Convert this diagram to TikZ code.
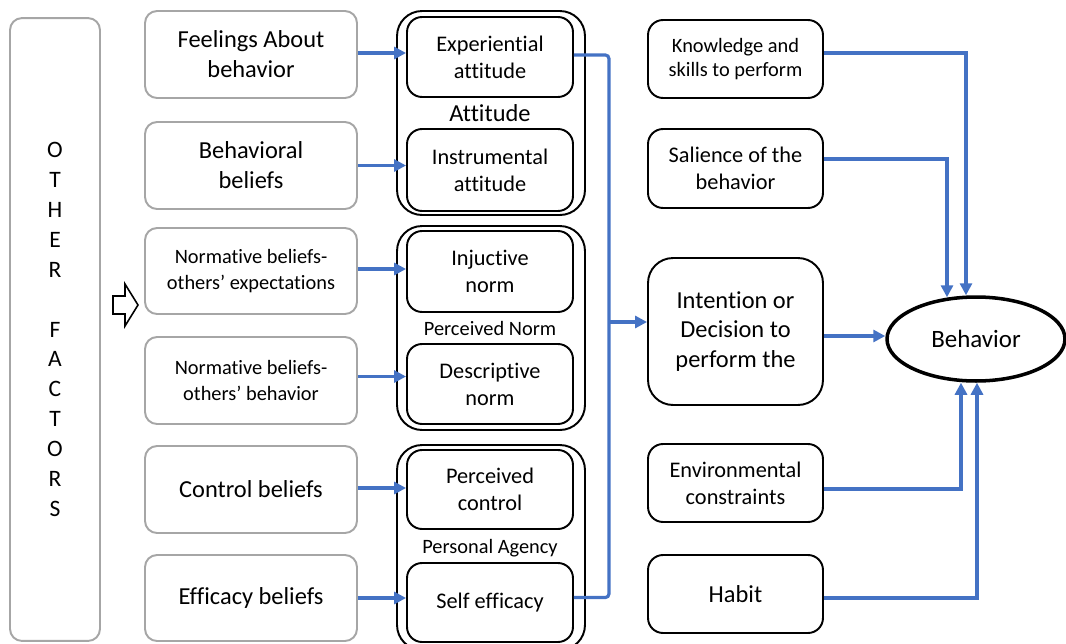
\documentclass[tikz,border=0pt]{standalone}
\usepackage{fontspec}
\setmainfont{Carlito}[Ligatures=NoCommon]
\usetikzlibrary{shapes.geometric,arrows.meta}
\definecolor{bl}{HTML}{4472C4}
\definecolor{gb}{HTML}{A6A6A6}
\newcommand\szA{\fontsize{13.9}{17}\selectfont}
\newcommand\szB{\fontsize{12.7}{15.3}\selectfont}
\newcommand\szC{\fontsize{11.6}{14.6}\selectfont}
\newcommand\szD{\fontsize{11.6}{13.8}\selectfont}
\begin{document}
\begin{tikzpicture}[x=0.02cm,y=-0.02cm,
  gbox/.style={draw=gb,line width=1.1pt,rounded corners=0.24cm,minimum width=4.24cm,align=center,inner sep=0pt},
  ibox/.style={draw=black,line width=1.1pt,rounded corners=0.3cm,minimum width=3.32cm,align=center,inner sep=0pt,font=\szB},
  grp/.style={draw=black,line width=1.1pt,rounded corners=0.5cm,minimum width=3.76cm,inner sep=0pt},
  rbox/.style={draw=black,line width=1.1pt,rounded corners=0.3cm,minimum width=3.5cm,align=center,inner sep=0pt},
  conn/.style={draw=bl,line width=1.8pt,-{Triangle[length=0.24cm,width=0.24cm]}},
  bus/.style={draw=bl,line width=1.8pt}]
\clip (0,0) rectangle (1066,643);
% other factors
\node[gbox,minimum width=1.8cm,minimum height=12.46cm,font=\fontsize{13.4}{17}\selectfont] (other) at (55,329.5)
  {O\\T\\H\\E\\R\\~\\F\\A\\C\\T\\O\\R\\S};
\draw[line width=0.9pt,line join=miter] (113,296) -- (125,296) -- (125,284) -- (138,305) -- (125,326) -- (125,314) -- (113,314) -- cycle;
% left grey boxes
\node[gbox,minimum height=1.74cm,font=\szA] (feel) at (251,54.5) {Feelings About\\behavior};
\node[gbox,minimum height=1.74cm,font=\szA] (behb) at (251,165.5) {Behavioral\\beliefs};
\node[gbox,minimum height=1.72cm,font=\szC] (nor1) at (251,271) {Normative beliefs-\\others' expectations};
\node[gbox,minimum height=1.74cm,font=\szC] (nor2) at (251,380.5) {Normative beliefs-\\others' behavior};
\node[gbox,minimum height=1.74cm,font=\szA] (ctrl) at (251,489.5) {Control beliefs};
\node[gbox,minimum height=1.72cm,font=\szA] (effi) at (251,598) {Efficacy beliefs};
% groups
\node[grp,minimum height=4.08cm] (att) at (491,113) {};
\node[grp,minimum height=4.08cm] (pn) at (491,328) {};
\node[grp,minimum height=4.1cm] (pa) at (491,547.5) {};
\node[font=\szA] (attl) at (490,113) {Attitude};
\node[font=\szC] (pnl) at (490,328) {Perceived Norm};
\node[font=\szC] (pal) at (490,548) {Personal Agency};
% inner boxes
\node[ibox,minimum height=1.6cm] (exp) at (490,57) {Experiential\\attitude};
\node[ibox,minimum height=1.64cm] (ins) at (490,170) {Instrumental\\attitude};
\node[ibox,minimum height=1.62cm] (inj) at (490,271.5) {Injuctive\\norm};
\node[ibox,minimum height=1.6cm] (des) at (490,384) {Descriptive\\norm};
\node[ibox,minimum height=1.58cm] (pco) at (490,489.5) {Perceived\\control};
\node[ibox,minimum height=1.58cm] (sef) at (490,602.5) {Self efficacy};
% right boxes
\node[rbox,minimum height=1.56cm,font=\szD] (kno) at (735.5,59) {Knowledge and\\skills to perform};
\node[rbox,minimum height=1.58cm,font=\szB] (sal) at (735.5,168.5) {Salience of the\\behavior};
\node[rbox,minimum height=2.94cm,rounded corners=0.5cm,font=\szA] (int) at (735.5,331.5) {Intention or\\Decision to\\perform the};
\node[rbox,minimum height=1.56cm,font=\szB] (env) at (735.5,483) {Environmental\\constraints};
\node[rbox,minimum height=1.56cm,font=\szA] (hab) at (735.5,594) {Habit};
\node[ellipse,draw=black,line width=2pt,minimum width=3.56cm,minimum height=1.68cm,inner sep=0pt,font=\fontsize{14.2}{17}\selectfont] (beh) at (976,339) {Behavior};
% left connectors
\draw[conn] ([yshift=0.03cm]feel.east) -- ([yshift=0.03cm]feel.east -| exp.west);
\draw[conn] (behb.east) -- (behb.east -| ins.west);
\draw[conn] ([yshift=0.04cm]nor1.east) -- ([yshift=0.04cm]nor1.east -| inj.west);
\draw[conn] ([yshift=0.08cm]nor2.east) -- ([yshift=0.08cm]nor2.east -| des.west);
\draw[conn] ([yshift=0.03cm]ctrl.east) -- ([yshift=0.03cm]ctrl.east -| pco.west);
\draw[conn] (effi.east) -- (effi.east -| sef.west);
% bus
\coordinate (bt) at ([yshift=0.04cm,xshift=0.7cm]exp.east);
\coordinate (bb) at ([yshift=0.1cm,xshift=0.7cm]sef.east);
\coordinate (ia) at ([yshift=0.19cm]int.west);
\draw[bus,rounded corners=2pt] ([yshift=0.04cm]exp.east) -- (bt) -- (bb) -- ([yshift=0.1cm]sef.east);
\draw[conn] (bt |- ia) -- (ia);
% right connectors
\draw[conn] ([yshift=0.12cm]kno.east) -| ([xshift=-0.2cm]beh.north);
\draw[conn] ([yshift=0.19cm]sal.east) -| ([xshift=-0.58cm,yshift=-0.04cm]beh.north);
\draw[conn] ([yshift=-0.09cm]int.east) -- ([yshift=-0.09cm]int.east -| beh.west);
\draw[conn] ([yshift=-0.12cm]env.east) -| ([xshift=-0.3cm]beh.south);
\draw[conn] ([yshift=-0.08cm]hab.east) -| ([xshift=0.02cm]beh.south);
\end{tikzpicture}
\end{document}
